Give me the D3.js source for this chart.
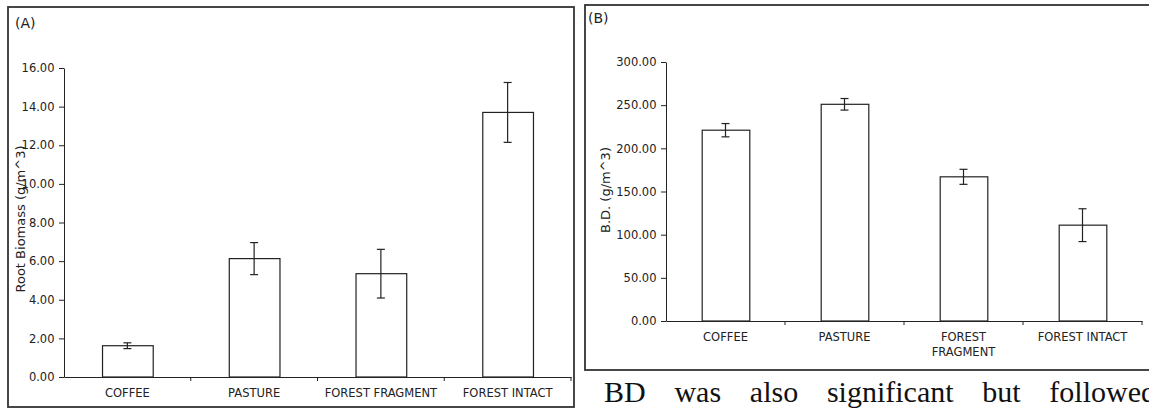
<!DOCTYPE html>
<html>
<head>
<meta charset="utf-8">
<script src="https://cdn.jsdelivr.net/npm/d3@7"></script>
<style>
  html, body { margin: 0; padding: 0; background: #fff; }
  svg { display: block; }
  .tick text { fill: #222; }
</style>
</head>
<body>
<svg id="chart" width="1149" height="409"></svg>
<script>
// values
const CATEGORIES = ['COFFEE', 'PASTURE', 'FOREST FRAGMENT', 'FOREST INTACT'];
const ROOT_MEAN = [1.62, 6.13, 5.35, 13.70];
const ROOT_ERR = [0.15, 0.83, 1.26, 1.55];
const ROOT_TICKS = [0, 2, 4, 6, 8, 10, 12, 14, 16];
const BD_MEAN = [221, 251, 167, 111];
const BD_ERR = [7.7, 6.7, 8.7, 19];
const BD_TICKS = [0, 50, 100, 150, 200, 250, 300];

const FONT = '"DejaVu Sans", Verdana, sans-serif';
const svg = d3.select('#chart');

const drawPanel = (cfg) => {
  const g = svg.append('g');

  // frame round the panel
  g.append('rect')
    .attr('x', cfg.box[0]).attr('y', cfg.box[1])
    .attr('width', cfg.box[2]).attr('height', cfg.box[3])
    .attr('fill', 'none').attr('stroke', '#333').attr('stroke-width', 1.8);

  g.append('text')
    .attr('x', cfg.tagPos[0]).attr('y', cfg.tagPos[1])
    .attr('font-family', FONT).attr('font-size', 14).attr('fill', '#222')
    .text(cfg.tag);

  const x = d3.scaleBand().domain(CATEGORIES).range(cfg.xRange)
    .paddingInner(0.6).paddingOuter(0.3);
  const y = d3.scaleLinear().domain([0, d3.max(cfg.ticks)]).range(cfg.yRange);
  const step = x.step();
  const base = cfg.yRange[0];

  // bars
  g.selectAll('.bar').data(CATEGORIES).join('rect')
    .attr('class', 'bar')
    .attr('x', d => x(d) + 0.5)
    .attr('y', (d, i) => y(cfg.mean[i]))
    .attr('width', x.bandwidth())
    .attr('height', (d, i) => base - y(cfg.mean[i]))
    .attr('fill', '#fff').attr('stroke', '#222').attr('stroke-width', 1.2);

  // error bars
  const cap = 4;
  const eb = g.selectAll('.err').data(CATEGORIES).join('g').attr('class', 'err')
    .attr('stroke', '#222').attr('stroke-width', 1.2);
  eb.append('line')
    .attr('x1', d => x(d) + x.bandwidth() / 2).attr('x2', d => x(d) + x.bandwidth() / 2)
    .attr('y1', (d, i) => y(cfg.mean[i] + cfg.err[i]))
    .attr('y2', (d, i) => y(cfg.mean[i] - cfg.err[i]));
  [1, -1].forEach(s => {
    eb.append('line')
      .attr('x1', d => x(d) + x.bandwidth() / 2 - cap).attr('x2', d => x(d) + x.bandwidth() / 2 + cap)
      .attr('y1', (d, i) => y(cfg.mean[i] + s * cfg.err[i]))
      .attr('y2', (d, i) => y(cfg.mean[i] + s * cfg.err[i]));
  });

  // y axis
  const yAxis = g.append('g')
    .attr('transform', `translate(${cfg.xRange[0]},0)`)
    .call(d3.axisLeft(y).tickValues(cfg.ticks).tickFormat(d3.format('.2f'))
      .tickSize(5).tickSizeOuter(0).tickPadding(4.5));
  yAxis.selectAll('text').attr('font-family', FONT).attr('font-size', 11.5);
  yAxis.selectAll('path, line').attr('stroke', '#222');

  // x axis: labels at band centres, ticks at band boundaries
  const xAxis = g.append('g')
    .attr('transform', `translate(0,${base})`)
    .call(d3.axisBottom(x).tickSize(0).tickSizeOuter(0).tickPadding(12));
  xAxis.select('.domain').attr('stroke', '#222');
  xAxis.selectAll('text').attr('font-family', FONT).attr('font-size', 11.5);
  xAxis.selectAll('.tick text').each(function () {
    const t = d3.select(this);
    if (this.getComputedTextLength() <= step * 0.92) return;
    const words = t.text().split(' ');
    const dy = t.attr('dy');
    t.text(null);
    words.forEach((w, k) => {
      t.append('tspan').attr('x', 0).attr('dy', k === 0 ? dy : '1.3em').text(w);
    });
  });
  g.selectAll('.bound').data(CATEGORIES).join('line')
    .attr('class', 'bound')
    .attr('x1', (d, i) => cfg.xRange[0] + (i + 1) * step)
    .attr('x2', (d, i) => cfg.xRange[0] + (i + 1) * step)
    .attr('y1', base).attr('y2', base + 4)
    .attr('stroke', '#222');

  g.append('text')
    .attr('transform', `translate(${cfg.labelPos[0]},${cfg.labelPos[1]}) rotate(-90)`)
    .attr('text-anchor', 'middle')
    .attr('font-family', FONT).attr('font-size', 13).attr('fill', '#222')
    .text(cfg.label);
};

drawPanel({
  box: [8, 7, 566, 400], tag: '(A)', tagPos: [15, 28],
  xRange: [64, 571], yRange: [377, 68],
  mean: ROOT_MEAN, err: ROOT_ERR, ticks: ROOT_TICKS,
  label: 'Root Biomass (g/m^3)', labelPos: [25, 219]
});

drawPanel({
  box: [585, 5, 600, 365], tag: '(B)', tagPos: [588, 23],
  xRange: [666, 1142], yRange: [321, 62],
  mean: BD_MEAN, err: BD_ERR, ticks: BD_TICKS,
  label: 'B.D. (g/m^3)', labelPos: [610, 190]
});

// justified body text below panel B
const words = 'BD was also significant but followed'.split(' ');
const body = svg.append('g')
  .attr('font-family', '"Liberation Serif", "Times New Roman", serif')
  .attr('font-size', 30).attr('fill', '#111');
const spans = body.selectAll('text').data(words).join('text').attr('y', 402).text(d => d);
const widths = [];
spans.each(function () { widths.push(this.getComputedTextLength()); });
const left = 604, right = 1156;
const gap = (right - left - d3.sum(widths)) / (words.length - 1);
let cx = left;
spans.attr('x', (d, i) => { const p = cx; cx += widths[i] + gap; return p; });
</script>
</body>
</html>
